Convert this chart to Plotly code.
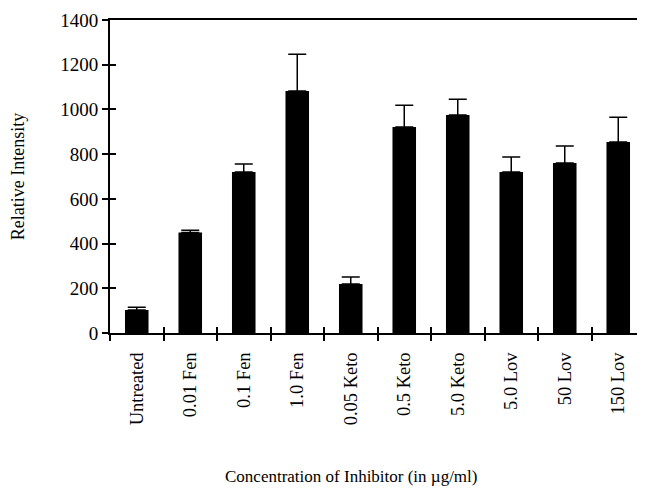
import plotly.graph_objects as go

categories = ["Untreated", "0.01 Fen", "0.1 Fen", "1.0 Fen", "0.05 Keto",
              "0.5 Keto", "5.0 Keto", "5.0 Lov", "50 Lov", "150 Lov"]
values = [103, 450, 720, 1082, 219, 921, 975, 720, 760, 854]
errors = [12, 10, 36, 165, 32, 98, 71, 67, 76, 111]
y_ticks = [0, 200, 400, 600, 800, 1000, 1200, 1400]

FONT = "Liberation Serif, Times New Roman, serif"

fig = go.Figure()
fig.add_trace(go.Bar(
    x=categories, y=values,
    marker=dict(color="black", line=dict(width=0)),
    error_y=dict(type="data", array=errors, arrayminus=[0]*len(errors),
                 symmetric=False, color="black", thickness=1.5, width=9),
    width=0.44,
    hoverinfo="skip",
))
# invisible trace on overlay axes to draw inward halves of ticks
fig.add_trace(go.Bar(
    x=categories, y=values, xaxis="x2", yaxis="y2",
    marker=dict(color="rgba(0,0,0,0)", line=dict(width=0)),
    hoverinfo="skip", showlegend=False,
))

fig.update_layout(
    width=637, height=484,
    margin=dict(l=102, r=0, t=12, b=159, autoexpand=False),
    paper_bgcolor="white", plot_bgcolor="white",
    showlegend=False,
    font=dict(family=FONT, color="black", size=18),
    xaxis=dict(
        type="category", categoryorder="array", categoryarray=categories,
        range=[-0.5, 9.5], automargin=False,
        showline=True, linecolor="black", linewidth=2, mirror=True,
        ticks="outside", ticklen=6, tickwidth=1.5, tickcolor="black",
        tickson="boundaries", tickangle=-90, ticklabelstandoff=10,
        tickfont=dict(family=FONT, size=18.5),
        showgrid=False, zeroline=False,
    ),
    yaxis=dict(
        range=[0, 1400], tickvals=y_ticks, automargin=False,
        showline=True, linecolor="black", linewidth=2,
        ticks="outside", ticklen=6, tickwidth=1.5, tickcolor="black",
        tickfont=dict(family=FONT, size=19),
        showgrid=False, zeroline=False,
        title=dict(text="Relative Intensity", font=dict(family=FONT, size=18), standoff=36),
    ),
    xaxis2=dict(
        type="category", categoryorder="array", categoryarray=categories,
        range=[-0.5, 9.5], overlaying="x", anchor="y2", automargin=False,
        ticks="inside", ticklen=6, tickwidth=1.5, tickcolor="black",
        tickson="boundaries", showticklabels=False,
        showgrid=False, zeroline=False, showline=False,
    ),
    yaxis2=dict(
        range=[0, 1400], tickvals=y_ticks, overlaying="y", anchor="x2", automargin=False,
        ticks="inside", ticklen=6, tickwidth=1.5, tickcolor="black",
        showticklabels=False, showgrid=False, zeroline=False, showline=False,
    ),
    annotations=[dict(
        text="Concentration of Inhibitor (in µg/ml)",
        xref="paper", yref="paper", x=0.45, y=-0.457,
        xanchor="center", yanchor="middle", showarrow=False,
        font=dict(family=FONT, size=17, color="black"),
    )],
)

fig.write_html("out.html")
